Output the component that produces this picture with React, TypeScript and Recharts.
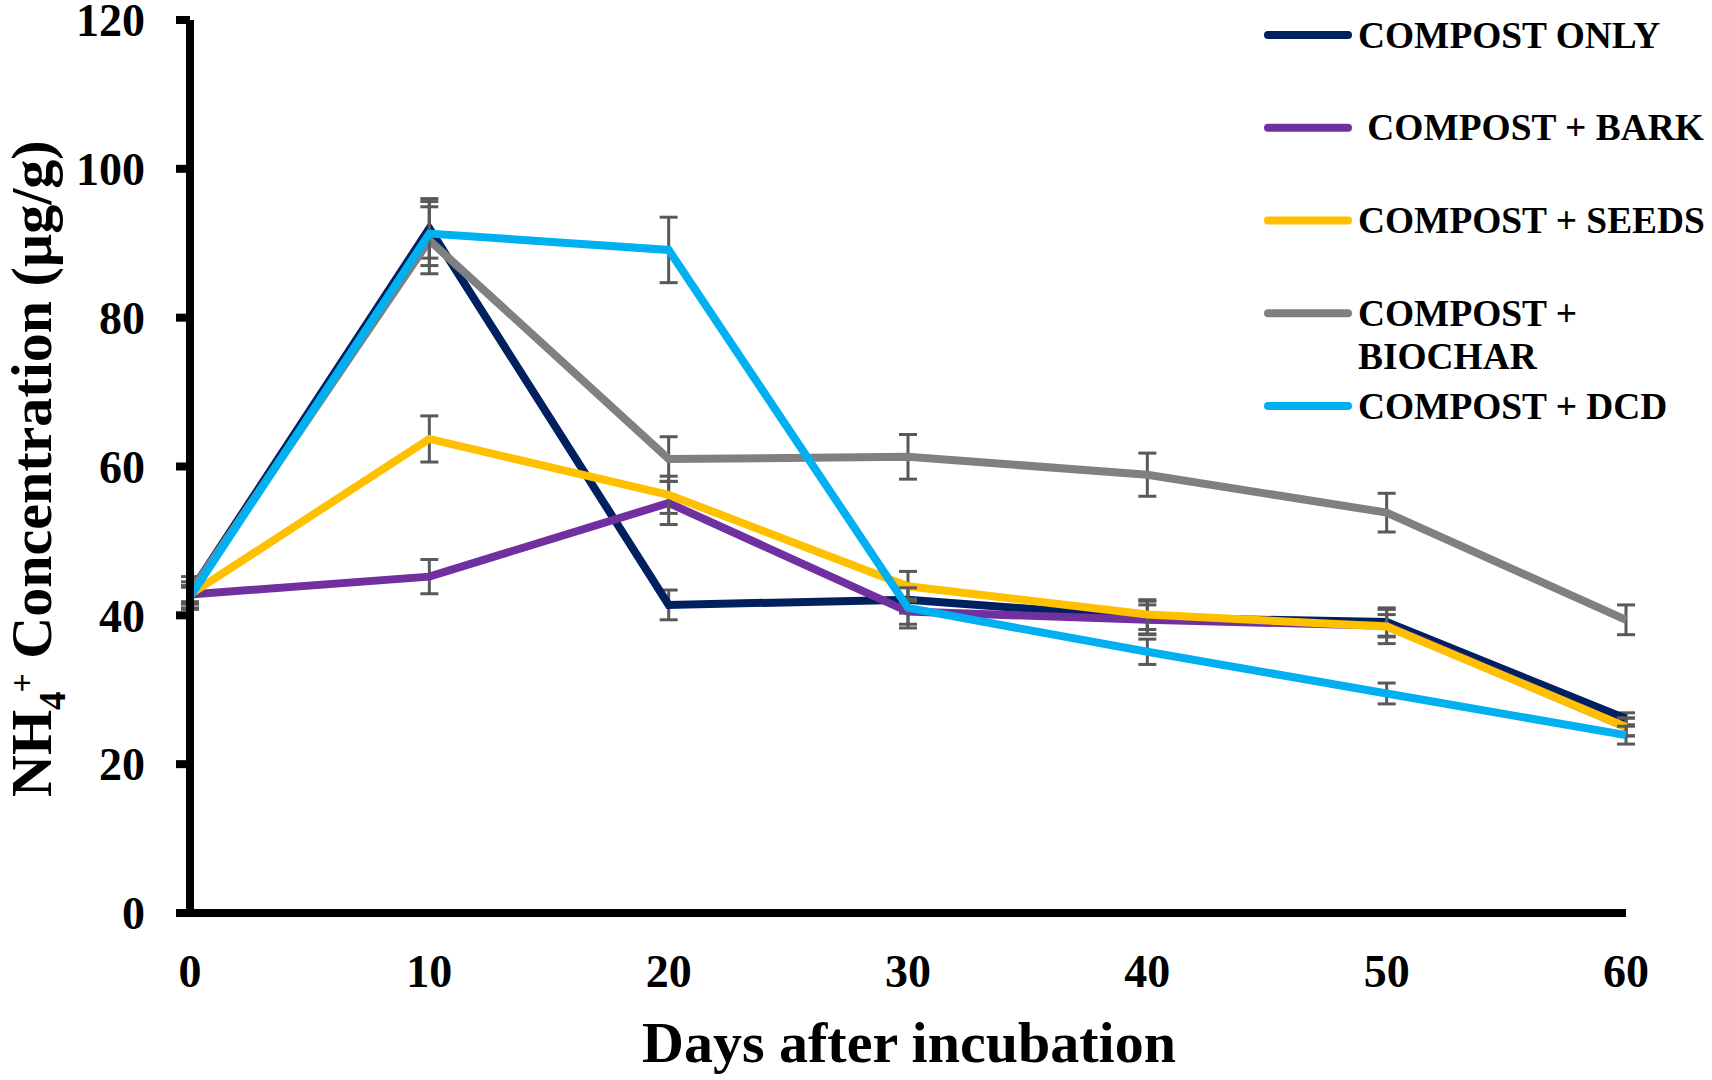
import React from 'react';
import { LineChart, Line, XAxis, YAxis, ErrorBar, Legend, Label } from 'recharts';

const days = [0, 10, 20, 30, 40, 50, 60];
const yTicks = [0, 20, 40, 60, 80, 100, 120];

const compostOnly = [43.0, 92.0, 41.4, 42.1, 39.7, 39.1, 26.1];
const compostOnlyErr = [1.5, 4.0, 2.0, 1.8, 2.2, 1.9, 0.8];
const compostBark = [42.8, 45.2, 55.1, 40.5, 39.4, 38.6, 25.0];
const compostBarkErr = [1.0, 2.3, 2.9, 1.7, 2.0, 1.5, 1.2];
const compostSeeds = [42.8, 63.7, 56.2, 43.9, 40.1, 38.5, 25.0];
const compostSeedsErr = [1.0, 3.1, 2.5, 2.0, 2.0, 2.3, 1.2];
const compostBiochar = [43.0, 90.4, 61.0, 61.3, 58.9, 53.8, 39.4];
const compostBiocharErr = [2.2, 4.5, 3.0, 3.0, 2.9, 2.6, 2.0];
const compostDcd = [42.5, 91.3, 89.1, 41.0, 35.1, 29.5, 23.9];
const compostDcdErr = [1.5, 4.3, 4.4, 2.7, 1.7, 1.4, 1.2];

const seriesNames = ['COMPOST ONLY', ' COMPOST + BARK', 'COMPOST + SEEDS', 'COMPOST +\nBIOCHAR', 'COMPOST + DCD'];
const seriesColors = ['#002060', '#7030A0', '#FFC000', '#808080', '#00B0F0'];
const seriesKeys = ['only', 'bark', 'seeds', 'biochar', 'dcd'];
const seriesValues = [compostOnly, compostBark, compostSeeds, compostBiochar, compostDcd];
const seriesErrors = [compostOnlyErr, compostBarkErr, compostSeedsErr, compostBiocharErr, compostDcdErr];

const data = days.map((d, i) => {
  const row: Record<string, number> = { day: d };
  seriesKeys.forEach((k, s) => {
    row[k] = seriesValues[s][i];
    row[k + 'Err'] = seriesErrors[s][i];
  });
  return row;
});

const FONT = "'Liberation Serif', 'Times New Roman', serif";
const ERR_COLOR = '#595959';

const renderLegend = (props: any) => {
  const payload = [...(props.payload || [])].sort(
    (a: any, b: any) => seriesNames.indexOf(a.value) - seriesNames.indexOf(b.value)
  );
  const rowGap = 92.75;
  return (
    <svg width={462} height={440} style={{ display: 'block', overflow: 'visible' }}>
      {payload.map((entry: any, i: number) => {
        const cy = 35 + i * rowGap;
        const lines = String(entry.value).split('\n');
        return (
          <g key={i}>
            <line x1={18} x2={98} y1={cy} y2={cy} stroke={entry.color} strokeWidth={8} strokeLinecap="round" />
            {lines.map((ln, j) => (
              <text
                key={j}
                x={108}
                y={cy + 12.7 + j * 43}
                fontFamily={FONT}
                fontWeight="bold"
                fontSize={37.4}
                fill="#000"
                style={{ whiteSpace: 'pre' }}
              >
                {ln}
              </text>
            ))}
          </g>
        );
      })}
    </svg>
  );
};

const renderYTitle = (props: any) => {
  const vb = props.viewBox || { x: 0, y: 20, width: 190, height: 893 };
  const bx = vb.x + 51;
  const by = vb.y + vb.height - 116;
  return (
    <text
      x={bx}
      y={by}
      transform={`rotate(-90 ${bx} ${by})`}
      textAnchor="start"
      fontFamily={FONT}
      fontWeight="bold"
      fontSize={58}
      fill="#000"
    >
      <tspan>NH</tspan>
      <tspan fontSize={37} dy={14}>4</tspan>
      <tspan fontSize={34} dx={-1} dy={-32}>+</tspan>
      <tspan dy={18}>{' Concentration (µg/g)'}</tspan>
    </text>
  );
};

const renderXTitle = (props: any) => {
  const vb = props.viewBox || { x: 190, y: 913, width: 1436, height: 100 };
  return (
    <text
      x={vb.x + vb.width / 2 + 1}
      y={vb.y + 149}
      textAnchor="middle"
      fontFamily={FONT}
      fontWeight="bold"
      fontSize={58}
      fill="#000"
    >
      Days after incubation
    </text>
  );
};

export default function App() {
  return (
    <div style={{ position: 'absolute', left: 0, top: 0, width: 1712, height: 1080, background: '#fff' }}>
      <LineChart
        width={1712}
        height={1080}
        data={data}
        margin={{ top: 20, right: 86, bottom: 67, left: 0 }}
      >
        <XAxis
          type="number"
          dataKey="day"
          domain={[0, 60]}
          ticks={days}
          interval={0}
          height={100}
          tickLine={false}
          tickSize={0}
          tickMargin={41}
          axisLine={{ stroke: '#000', strokeWidth: 8 }}
          tick={{ fill: '#000', fontSize: 46, fontWeight: 'bold', fontFamily: FONT }}
        >
          <Label content={renderXTitle} />
        </XAxis>
        <YAxis
          type="number"
          domain={[0, 120]}
          ticks={yTicks}
          interval={0}
          width={190}
          tickSize={14}
          tickMargin={31}
          tickLine={{ stroke: '#000', strokeWidth: 8 }}
          axisLine={{ stroke: '#000', strokeWidth: 8 }}
          tick={{ fill: '#000', fontSize: 46, fontWeight: 'bold', fontFamily: FONT }}
        >
          <Label content={renderYTitle} />
        </YAxis>
        <Legend
          layout="vertical"
          align="center"
          verticalAlign="middle"
          content={renderLegend}
          wrapperStyle={{ left: 1250, top: 0, width: 462, height: 440 }}
        />
        {seriesKeys.map((k, s) => (
          <Line
            key={k}
            type="linear"
            dataKey={k}
            name={seriesNames[s]}
            stroke={seriesColors[s]}
            strokeWidth={8}
            dot={false}
            activeDot={false}
            isAnimationActive={false}
          >
            <ErrorBar
              dataKey={k + 'Err'}
              direction="y"
              width={9}
              strokeWidth={3}
              stroke={ERR_COLOR}
              isAnimationActive={false}
            />
          </Line>
        ))}
      </LineChart>
    </div>
  );
}
